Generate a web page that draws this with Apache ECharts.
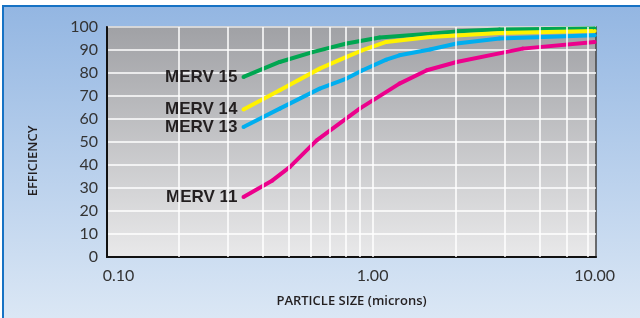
<!DOCTYPE html>
<html>
<head>
<meta charset="utf-8">
<script src="https://cdn.jsdelivr.net/npm/echarts@6/dist/echarts.min.js"></script>
<style>
  html, body { margin: 0; padding: 0; background: #fff; }
  #chart { width: 640px; height: 318px; }
</style>
</head>
<body>
<div id="chart"></div>
<script>
// particle size (microns) and efficiency (%)
const size15 = [0.342, 0.462, 0.607, 0.805, 1.06, 1.61, 2.01, 2.87, 6.33];
const merv15 = [78.3, 84.8, 89.1, 92.8, 95.4, 97.1, 98.1, 98.9, 99.3];

const size14 = [0.342, 0.462, 0.644, 0.805, 0.92, 1.12, 1.61, 2.87, 6.33];
const merv14 = [64.1, 72.5, 81.9, 87.0, 89.9, 93.5, 95.7, 97.4, 98.3];

const size13 = [0.342, 0.462, 0.644, 0.805, 0.92, 1.12, 1.25, 1.61, 2.01, 2.87, 6.33];
const merv13 = [56.5, 64.5, 73.2, 77.6, 81.2, 85.8, 87.7, 90.2, 92.8, 95.0, 96.4];

const size11 = [0.342, 0.435, 0.502, 0.628, 0.898, 1.25, 1.57, 2.01, 3.48, 6.33];
const merv11 = [26.1, 33.3, 39.1, 50.7, 64.5, 75.4, 81.2, 84.8, 90.6, 93.5];

// grid positions on the x axis and the three labels printed under it
const xGridValues = [0.2, 0.3, 0.4, 0.5, 0.6, 0.7, 0.8, 0.9, 1, 2, 3, 4, 5, 6];
const xLabelValues = [0.121, 1, 6.33];
const xLabelTexts = ['0.10', '1.00', '10.00'];

const lines = [
  { name: 'MERV 15', x: size15, y: merv15, color: '#00a651' },
  { name: 'MERV 14', x: size14, y: merv14, color: '#fff200' },
  { name: 'MERV 13', x: size13, y: merv13, color: '#00aeef' },
  { name: 'MERV 11', x: size11, y: merv11, color: '#ec008c' }
];

const chart = echarts.init(document.getElementById('chart'));

const series = lines.map(function (s) {
  return {
    name: s.name,
    type: 'line',
    z: 3,
    symbol: 'circle',
    symbolSize: 4,
    itemStyle: { color: s.color },
    lineStyle: { color: s.color, width: 4 },
    data: s.x.map(function (x, i) {
      if (i === 0) {
        return {
          value: [x, s.y[i]],
          label: {
            show: true,
            position: 'left',
            distance: 4,
            formatter: s.name,
            fontFamily: 'Liberation Sans',
            fontWeight: 'bold',
            fontSize: 17,
            color: '#231f20'
          }
        };
      }
      return [x, s.y[i]];
    })
  };
});

// vertical white grid lines
series.unshift({
  type: 'line',
  z: 1,
  data: [],
  markLine: {
    silent: true,
    symbol: 'none',
    animation: false,
    label: { show: false },
    lineStyle: { color: '#fff', width: 1.5, type: 'solid' },
    data: xGridValues.map(function (v) { return { xAxis: v }; })
  }
});

chart.setOption({
  animation: false,
  backgroundColor: '#fff',
  graphic: [{
    type: 'rect',
    z: -100,
    silent: true,
    shape: { x: 3, y: 6, width: 660, height: 330 },
    style: {
      fill: new echarts.graphic.LinearGradient(0, 0, 0, 1, [
        { offset: 0, color: '#93b6e2' },
        { offset: 1, color: '#dfeaf6' }
      ]),
      stroke: '#1672c4',
      lineWidth: 2
    }
  }],
  grid: {
    left: 107, right: 44, top: 27, bottom: 61,
    show: true,
    backgroundColor: new echarts.graphic.LinearGradient(0, 0, 0, 1, [
      { offset: 0, color: '#a0a1a5' },
      { offset: 1, color: '#e9e9ea' }
    ]),
    borderColor: '#444',
    borderWidth: 1.5
  },
  xAxis: {
    type: 'log',
    logBase: 10,
    min: 0.11,
    max: 6.4,
    name: 'PARTICLE SIZE (microns)',
    nameLocation: 'middle',
    nameGap: 38,
    nameTextStyle: { fontFamily: 'Open Sans', fontSize: 13, fontWeight: 600, color: '#231f20' },
    axisLine: { show: true, lineStyle: { color: '#111', width: 2 } },
    axisTick: { show: false },
    splitLine: { show: false },
    minorSplitLine: { show: false },
    axisLabel: {
      customValues: xLabelValues,
      margin: 11,
      fontFamily: 'Lato',
      fontSize: 16,
      color: '#333',
      formatter: function (v) {
        return xLabelTexts[xLabelValues.indexOf(v)] || '';
      }
    }
  },
  yAxis: {
    type: 'value',
    min: 0,
    max: 100,
    interval: 10,
    name: 'EFFICIENCY',
    nameLocation: 'middle',
    nameGap: 67,
    nameTextStyle: { fontFamily: 'Open Sans', fontSize: 13, fontWeight: 600, color: '#231f20', padding: [0, 38, 0, 0] },
    axisLine: { show: true, lineStyle: { color: '#111', width: 2 } },
    axisTick: { show: false },
    splitLine: { show: true, lineStyle: { color: '#fff', width: 1.5 } },
    axisLabel: { margin: 9, fontFamily: 'Lato', fontSize: 16, color: '#333' }
  },
  series: series
});
</script>
</body>
</html>
